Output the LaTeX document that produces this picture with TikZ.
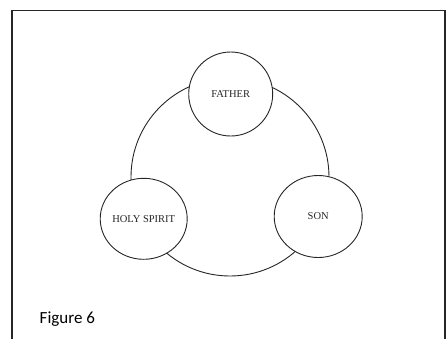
\documentclass[tikz,border=0pt]{standalone}
\usepackage{fontspec}
\usetikzlibrary{shapes.geometric}
\setmainfont{Liberation Serif}
\newfontfamily\figfont{Carlito}
\begin{document}
\begin{tikzpicture}[x=1pt,y=-1pt,
  person/.style={draw=black!85, line width=0.9pt, fill=white, inner sep=0pt},
  lbl/.style={font=\fontsize{10.5}{12}\selectfont, text=black!85}]
\useasboundingbox (0,0) rectangle (446,338);
\draw[line width=1.6pt, black!85] (12,345) -- (12,10.5) -- (445,10.5) -- (445,345);
\draw[line width=0.9pt, black!85] (230,177) ellipse [x radius=99, y radius=99];
\node[person, circle, minimum size=84pt] (father) at (230.7,94) {};
\node[person, ellipse, minimum width=87pt, minimum height=81pt] (spirit) at (143.7,218.8) {};
\node[person, ellipse, minimum width=88pt, minimum height=82pt] (son) at (318.2,216.5) {};
\node[lbl] (ft) at (father.center) {FATHER};
\node[lbl] (st) at (spirit.center) {HOLY SPIRIT};
\node[lbl] (sn) at (son.center) {SON};
\node[anchor=base west, font=\figfont\fontsize{17}{20}\selectfont, inner sep=0pt] (fig) at (39.5,323) {Figure 6};
\end{tikzpicture}
\end{document}
